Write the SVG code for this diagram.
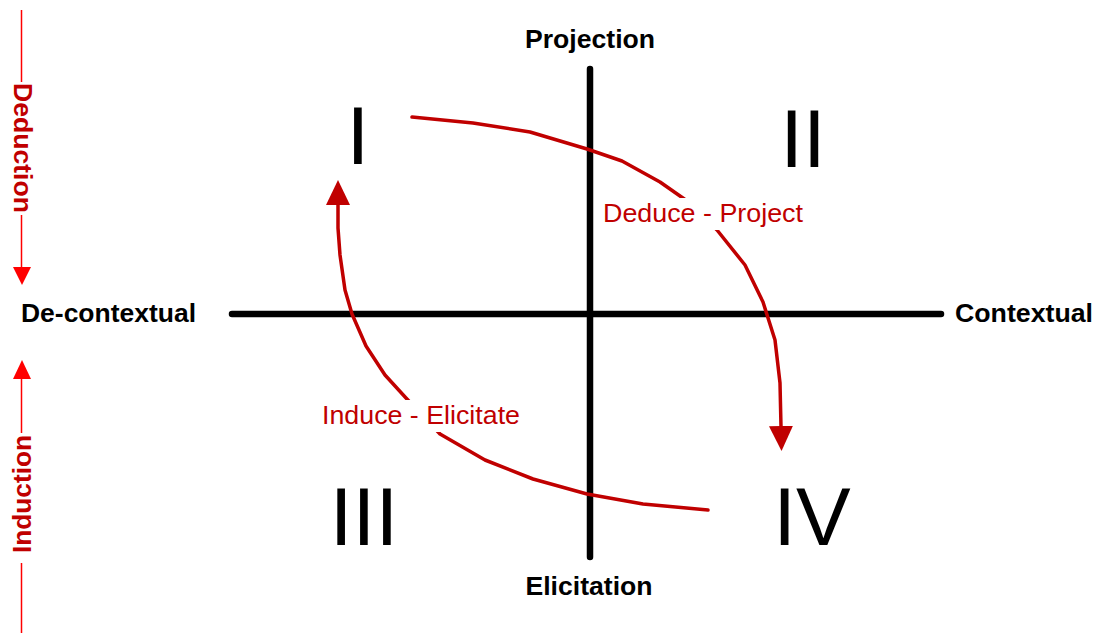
<svg xmlns="http://www.w3.org/2000/svg" width="1096" height="634" viewBox="0 0 1096 634">
  <style>
    .axis { stroke: #000; stroke-width: 6.5; stroke-linecap: round; fill: none; }
    .axislbl { font-family: "Liberation Sans", Arial, sans-serif; font-weight: bold; font-size: 26px; fill: #000; }
    .num { font-family: "Liberation Sans", Arial, sans-serif; font-size: 82px; fill: #000; text-anchor: middle; }
    .flow { stroke: #C00000; stroke-width: 3.5; fill: none; stroke-linejoin: round; stroke-linecap: round; }
    .flowlbl { font-family: "Liberation Sans", Arial, sans-serif; font-size: 26px; fill: #C00000; }
    .side { stroke: #FF0000; stroke-width: 1.5; fill: none; }
    .sidelbl { font-family: "Liberation Sans", Arial, sans-serif; font-weight: bold; font-size: 26px; fill: #C00000; text-anchor: middle; }
  </style>
  <defs>
    <marker id="redArrow" markerUnits="userSpaceOnUse" markerWidth="26" markerHeight="26" viewBox="0 0 26 26" refX="1" refY="13" orient="auto">
      <path d="M0,1 L25,13 L0,25 Z" fill="#C00000"/>
    </marker>
  </defs>
  <rect width="1096" height="634" fill="#fff"/>

  <g id="axes">
    <line class="axis" x1="590" y1="69" x2="590" y2="557"/>
    <line class="axis" x1="232" y1="314" x2="941" y2="314"/>
  </g>

  <g id="projection"><text class="axislbl" x="590" y="48" text-anchor="middle" textLength="130" lengthAdjust="spacingAndGlyphs">Projection</text></g>
  <g id="elicitation"><text class="axislbl" x="589" y="595" text-anchor="middle" textLength="127" lengthAdjust="spacingAndGlyphs">Elicitation</text></g>
  <g id="decontextual"><text class="axislbl" x="21" y="322" textLength="175" lengthAdjust="spacingAndGlyphs">De-contextual</text></g>
  <g id="contextual"><text class="axislbl" x="955" y="322" textLength="138" lengthAdjust="spacingAndGlyphs">Contextual</text></g>

  <g id="quadrant-I"><text class="num" x="358" y="164">I</text></g>
  <g id="quadrant-II"><text class="num" x="803" y="167">II</text></g>
  <g id="quadrant-III"><text class="num" x="364" y="545">III</text></g>
  <g id="quadrant-IV"><text class="num" x="812" y="545">IV</text></g>

  <g id="connectors">
    <path class="flow" marker-end="url(#redArrow)" d="M412,117 L473,123 L530,132 L587,149 L622,161 L660,182 L690,203 L717,230 L745,265 L763,302 L775,340 L780,383 L781,427"/>
    <path class="flow" marker-end="url(#redArrow)" d="M708,510 L643,504 L587,494 L533,479 L485,460 L440,434 L406,398 L385,375 L366,346 L352,314 L345,290 L340,255 L338,228 L338,204"/>
  </g>

  <g id="label-deduce">
    <rect x="600" y="198" width="206" height="32" fill="#fff"/>
    <text class="flowlbl" x="703" y="222" text-anchor="middle" textLength="200" lengthAdjust="spacingAndGlyphs">Deduce - Project</text>
  </g>
  <g id="label-induce">
    <rect x="318" y="400" width="206" height="32" fill="#fff"/>
    <text class="flowlbl" x="421" y="424" text-anchor="middle" textLength="198" lengthAdjust="spacingAndGlyphs">Induce - Elicitate</text>
  </g>

  <g id="deduction">
    <line class="side" x1="21.5" y1="10" x2="21.5" y2="82"/>
    <line class="side" x1="21.5" y1="215" x2="21.5" y2="268"/>
    <polygon points="13,267 31,267 22,285" fill="#FF0000"/>
    <text class="sidelbl" transform="translate(14,148) rotate(90)" textLength="130" lengthAdjust="spacingAndGlyphs">Deduction</text>
  </g>
  <g id="induction">
    <polygon points="13,379 31,379 22,360" fill="#FF0000"/>
    <line class="side" x1="21.5" y1="378" x2="21.5" y2="433"/>
    <line class="side" x1="21.5" y1="563" x2="21.5" y2="633"/>
    <text class="sidelbl" transform="translate(31,494) rotate(-90)" textLength="118" lengthAdjust="spacingAndGlyphs">Induction</text>
  </g>
</svg>
